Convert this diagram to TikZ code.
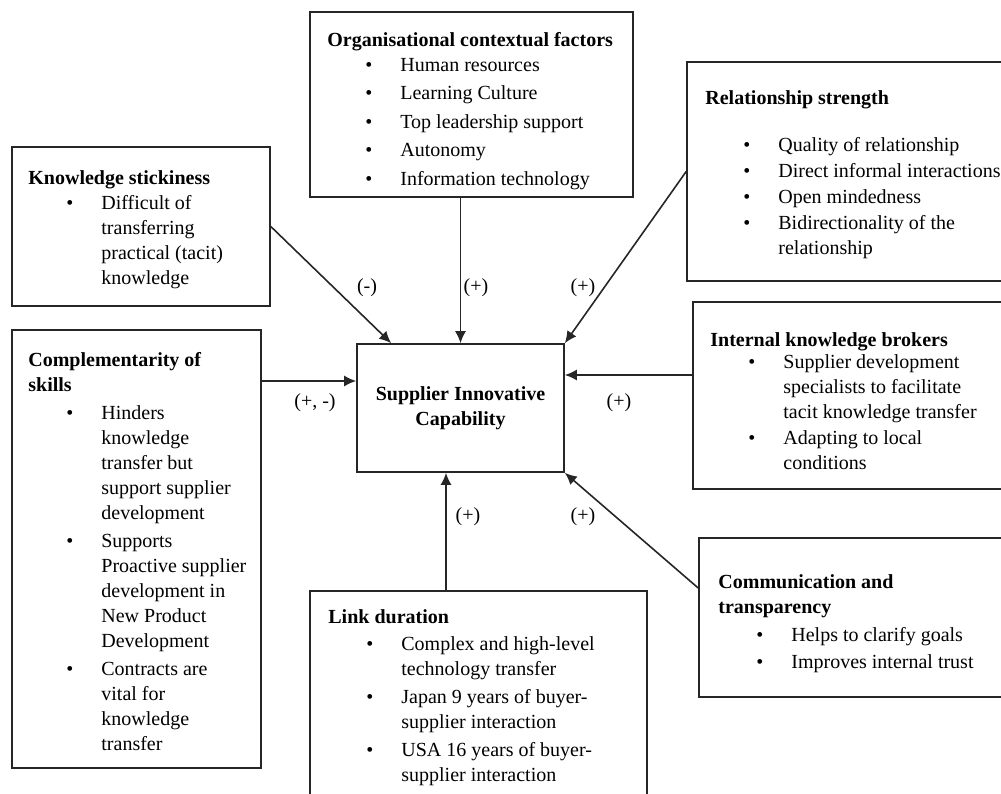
\documentclass[tikz,border=0pt]{standalone}
\usepackage{fontspec}
\setmainfont{Liberation Serif}
\usetikzlibrary{arrows.meta}

\newcommand{\bul}{\hspace*{19pt}\makebox[17.5pt][l]{\textbullet}}
\newcommand{\ind}{\hspace*{36.5pt}}

\begin{document}
\begin{tikzpicture}[x=0.5pt, y=-0.5pt,
  panel/.style={draw=black!85, line width=0.8pt, inner sep=0pt},
  txt/.style={anchor=base west, inner sep=0pt, font=\fontsize{10}{12.5}\selectfont},
  sign/.style={inner sep=1pt, font=\fontsize{10}{12.5}\selectfont},
  arr/.style={draw=black!85, line width=0.8pt, -{Latex[length=6pt,width=5.5pt]}}]
\useasboundingbox (0,0) rectangle (1001,793);

% central box
\node[panel, minimum width=103.5pt, minimum height=64pt, align=center,
  font=\fontsize{10}{12.5}\selectfont\bfseries] (sic) at (460.5,408)
  {Supplier Innovative\\Capability};

% boxes
\node[panel, minimum width=161.5pt, minimum height=92.5pt] (ocf) at (471.5,104.5) {};
\node[panel, minimum width=129pt, minimum height=79.5pt] (ks) at (141,226.5) {};
\node[panel, minimum width=124.5pt, minimum height=219pt] (cs) at (136.5,549) {};
\node[panel, minimum width=159.5pt, minimum height=109.5pt] (rs) at (846.5,171.5) {};
\node[panel, minimum width=156.5pt, minimum height=93.5pt] (ikb) at (849.5,395.5) {};
\node[panel, minimum width=153.5pt, minimum height=79.5pt] (ct) at (852.5,617.5) {};
\node[panel, minimum width=168.5pt, minimum height=107pt] (ld) at (478.5,698) {};

% box texts
\node[txt] (ocf-t) at (327,46) {\parbox[t]{155pt}{\textbf{Organisational contextual factors}\\
  \bul Human resources\\[1.75pt]
  \bul Learning Culture\\[1.75pt]
  \bul Top leadership support\\[1.75pt]
  \bul Autonomy\\[1.75pt]
  \bul Information technology}};

\node[txt] (ks-t) at (28,184) {\parbox[t]{120pt}{\textbf{Knowledge stickiness}\\
  \bul Difficult of\\
  \ind transferring\\
  \ind practical (tacit)\\
  \ind knowledge}};

\node[txt] (cs-t) at (28,366) {\parbox[t]{118pt}{\textbf{Complementarity of}\\
  \textbf{skills}\\[1.5pt]
  \bul Hinders\\
  \ind knowledge\\
  \ind transfer but\\
  \ind support supplier\\
  \ind development\\[1.75pt]
  \bul Supports\\
  \ind Proactive supplier\\
  \ind development in\\
  \ind New Product\\
  \ind Development\\[1.5pt]
  \bul Contracts are\\
  \ind vital for\\
  \ind knowledge\\
  \ind transfer}};

\node[txt] (rs-t) at (705,104) {\parbox[t]{150pt}{\textbf{Relationship strength}\\[11pt]
  \bul Quality of relationship\\[0.5pt]
  \bul Direct informal interactions\\[0.5pt]
  \bul Open mindedness\\[0.5pt]
  \bul Bidirectionality of the\\
  \ind relationship}};

\node[txt] (ikb-t) at (710,346) {\parbox[t]{148pt}{\textbf{Internal knowledge brokers}\\[-1.5pt]
  \bul Supplier development\\
  \ind specialists to facilitate\\
  \ind tacit knowledge transfer\\[0.5pt]
  \bul Adapting to local\\
  \ind conditions}};

\node[txt] (ct-t) at (718,588) {\parbox[t]{145pt}{\textbf{Communication and}\\
  \textbf{transparency}\\[1.5pt]
  \bul Helps to clarify goals\\[1pt]
  \bul Improves internal trust}};

\node[txt] (ld-t) at (328,623) {\parbox[t]{160pt}{\textbf{Link duration}\\[1pt]
  \bul Complex and high-level\\
  \ind technology transfer\\[1.5pt]
  \bul Japan 9 years of buyer-\\
  \ind supplier interaction\\[1.5pt]
  \bul USA 16 years of buyer-\\
  \ind supplier interaction}};

% arrows
\coordinate (cin) at ([yshift=13.5pt]sic.west);
\coordinate (kin) at ([yshift=16.5pt]sic.east);
\coordinate (lin) at ([xshift=-7.25pt]sic.south);
\draw[arr] (ks.east) -- ([xshift=17.5pt]sic.north west);
\draw[arr] (sic.north |- ocf.south) -- (sic.north);
\draw[arr] (rs.west) -- (sic.north east);
\draw[arr] (cs.east |- cin) -- (cin);
\draw[arr] (ikb.west |- kin) -- (kin);
\draw[arr] (ld.north -| lin) -- (lin);
\draw[arr] ([yshift=14.75pt]ct.west) -- (sic.south east);

% signs
\node[sign] (s1) at (367,288) {(-)};
\node[sign] (s2) at (476,288) {(+)};
\node[sign] (s3) at (583,288) {(+)};
\node[sign] (s4) at (315,403) {(+, -)};
\node[sign] (s5) at (619,403) {(+)};
\node[sign] (s6) at (468,517) {(+)};
\node[sign] (s7) at (583,517) {(+)};
\end{tikzpicture}
\end{document}
